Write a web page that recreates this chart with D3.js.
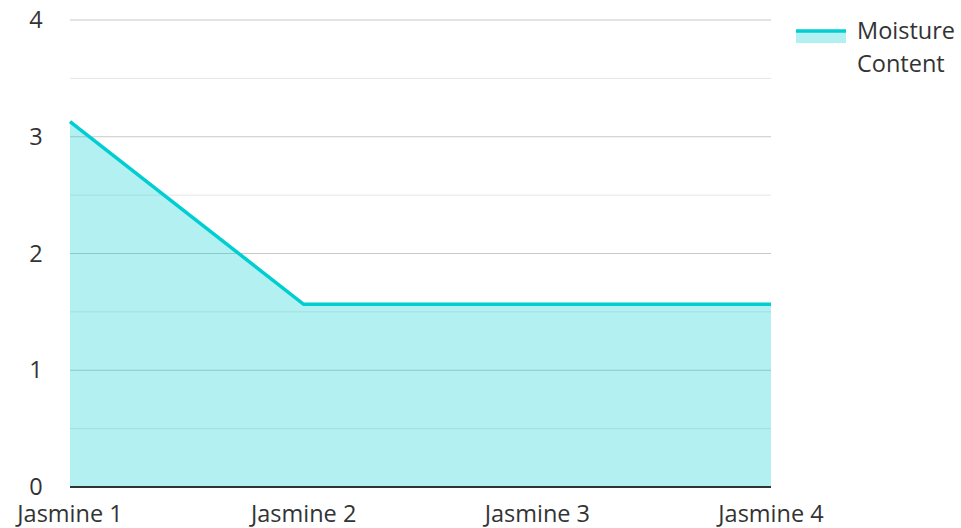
<!DOCTYPE html>
<html>
<head>
<meta charset="utf-8">
<script src="https://cdn.jsdelivr.net/npm/d3@7"></script>
<style>
  body { margin: 0; background: #fff; }
  svg { font-family: "Open Sans", "Noto Sans", sans-serif; }
</style>
</head>
<body>
<div id="chart"></div>
<script>
const categories = ["Jasmine 1", "Jasmine 2", "Jasmine 3", "Jasmine 4"];
const moisture = [3.13, 1.565, 1.565, 1.565];
const yTicks = [0, 1, 2, 3, 4];
const seriesName = ["Moisture", "Content"];

const width = 961, height = 528;
const margin = {top: 20, left: 70, bottom: 41, right: 190};
const lineColor = "#00ced1";
const fontSize = 23.5;

const svg = d3.select("#chart")
  .append("svg")
  .attr("width", width)
  .attr("height", height);

const x = d3.scalePoint()
  .domain(categories)
  .range([margin.left, width - margin.right]);

const y = d3.scaleLinear()
  .domain([0, 4])
  .range([height - margin.bottom, margin.top]);

// minor gridlines every 0.5
const minor = d3.range(0.5, 4, 1);
svg.append("g")
  .selectAll("line")
  .data(minor)
  .enter()
  .append("line")
  .attr("x1", margin.left)
  .attr("x2", width - margin.right)
  .attr("y1", d => y(d))
  .attr("y2", d => y(d))
  .attr("stroke", "#e6e6e6")
  .attr("stroke-width", 1);

svg.append("g")
  .selectAll("line")
  .data(yTicks.filter(d => d > 0))
  .enter()
  .append("line")
  .attr("x1", margin.left)
  .attr("x2", width - margin.right)
  .attr("y1", d => y(d))
  .attr("y2", d => y(d))
  .attr("stroke", "#c8c8c8")
  .attr("stroke-width", 1);

const data = categories.map((c, i) => ({cat: c, v: moisture[i]}));

svg.append("path")
  .datum(data)
  .attr("fill", lineColor)
  .attr("fill-opacity", 0.3)
  .attr("d", d3.area()
    .x(d => x(d.cat))
    .y0(y(0))
    .y1(d => y(d.v)));

svg.append("path")
  .datum(data)
  .attr("fill", "none")
  .attr("stroke", lineColor)
  .attr("stroke-width", 3.5)
  .attr("d", d3.line()
    .x(d => x(d.cat))
    .y(d => y(d.v)));

// baseline
svg.append("line")
  .attr("x1", margin.left)
  .attr("x2", width - margin.right)
  .attr("y1", y(0))
  .attr("y2", y(0))
  .attr("stroke", "#333")
  .attr("stroke-width", 2);

// y tick labels
svg.append("g")
  .selectAll("text")
  .data(yTicks)
  .enter()
  .append("text")
  .attr("x", 36)
  .attr("y", d => y(d))
  .attr("dy", "0.35em")
  .attr("text-anchor", "middle")
  .attr("font-size", fontSize)
  .attr("fill", "#333")
  .text(d => d);

// x labels
svg.append("g")
  .selectAll("text")
  .data(categories)
  .enter()
  .append("text")
  .attr("x", d => x(d))
  .attr("y", 522)
  .attr("text-anchor", "middle")
  .attr("font-size", fontSize)
  .attr("fill", "#333")
  .text(d => d);

// legend
const lg = svg.append("g");
lg.append("rect")
  .attr("x", 796).attr("y", 32)
  .attr("width", 50).attr("height", 11)
  .attr("fill", lineColor).attr("fill-opacity", 0.3);
lg.append("line")
  .attr("x1", 796).attr("x2", 846)
  .attr("y1", 31).attr("y2", 31)
  .attr("stroke", lineColor).attr("stroke-width", 3.5);
lg.selectAll("text")
  .data(seriesName)
  .enter()
  .append("text")
  .attr("x", 857)
  .attr("y", (d, i) => 39 + i * 33)
  .attr("font-size", fontSize)
  .attr("fill", "#333")
  .text(d => d);
</script>
</body>
</html>
